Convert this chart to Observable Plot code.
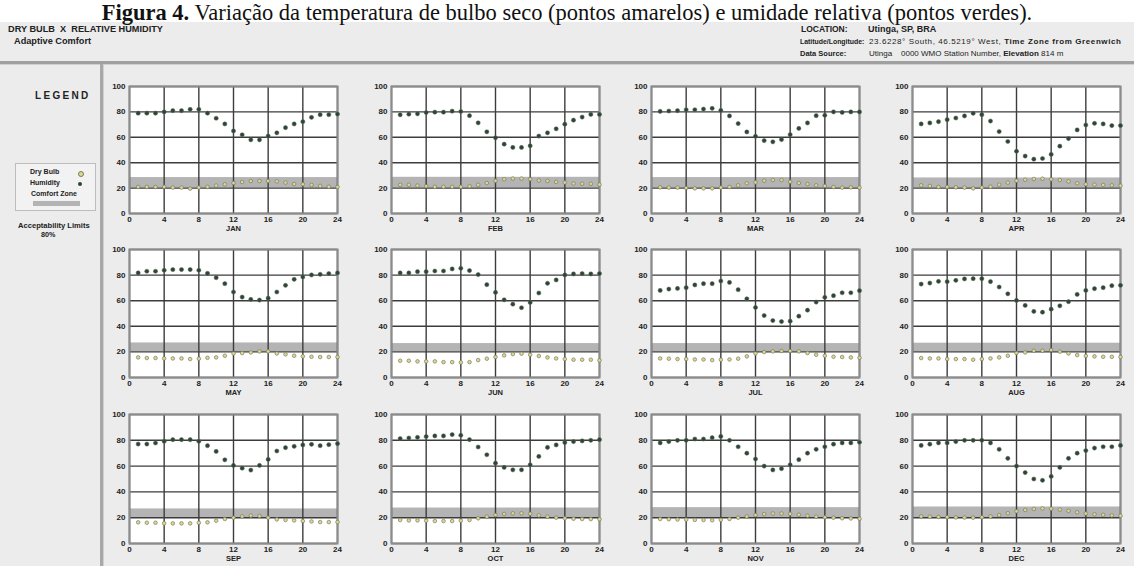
<!DOCTYPE html>
<html><head><meta charset="utf-8">
<script src="https://cdn.jsdelivr.net/npm/d3@7"></script>
<script src="https://cdn.jsdelivr.net/npm/@observablehq/plot@0.6"></script>
<style>
html,body{margin:0;padding:0;background:#fff;}
#root{position:relative;width:1134px;height:566px;overflow:hidden;font-family:"Liberation Sans",Arial,sans-serif;color:#222;background:#fff;}
#title{position:absolute;left:0;top:0;width:1134px;height:26px;text-align:center;font-family:"Liberation Serif","Times New Roman",serif;font-size:22.5px;line-height:26px;color:#111;white-space:nowrap;}
#bg{position:absolute;left:0;top:22px;width:1134px;height:544px;background:#ececec;}
.hdr{position:absolute;font-size:9.2px;font-weight:bold;white-space:nowrap;line-height:10px;}
.hdrn{font-weight:normal;}
#hline{position:absolute;left:0;top:61px;width:1134px;height:3px;background:#a0a0a0;border-bottom:1px solid #d0d0d0;}
#vline{position:absolute;left:100px;top:64px;width:3px;height:502px;background:#a8a8a8;border-right:1px solid #d0d0d0;}
#legtitle{position:absolute;left:35px;top:90px;font-size:10px;font-weight:bold;letter-spacing:2.3px;}
#legbox{position:absolute;left:15px;top:163px;width:79px;height:46px;background:#f2f2f2;border:1px solid #bdbdbd;}
.legt{position:absolute;font-size:7px;font-weight:bold;white-space:nowrap;}
.legdot{position:absolute;width:4px;height:4px;border-radius:50%;}
.panel{position:absolute;}
</style></head>
<body>
<div id="root">
  <div id="bg"></div>
  <div id="title"><b>Figura 4.</b> Variação da temperatura de bulbo seco (pontos amarelos) e umidade relativa (pontos verdes).</div>
  <div class="hdr" style="left:8px;top:24px;">DRY BULB&nbsp; X&nbsp; RELATIVE HUMIDITY</div>
  <div class="hdr" style="left:14px;top:36px;">Adaptive Comfort</div>
  <div class="hdr" style="left:801px;top:24px;font-size:8.5px;">LOCATION:</div>
  <div class="hdr" style="left:868px;top:24px;font-size:9px;">Utinga, SP, BRA</div>
  <div class="hdr" style="left:800px;top:37px;font-size:6.9px;">Latitude/Longitude:</div>
  <div class="hdr" style="left:869px;top:37px;font-size:8px;letter-spacing:0.6px;"><span class="hdrn">23.6228° South, 46.5219° West,</span> Time Zone from Greenwich</div>
  <div class="hdr" style="left:800px;top:49px;font-size:7.5px;">Data Source:</div>
  <div class="hdr" style="left:869px;top:49px;font-size:8px;"><span class="hdrn">Utinga &nbsp;&nbsp; 0000 WMO Station Number,</span> Elevation <span class="hdrn">814 m</span></div>
  <div id="hline"></div>
  <div id="vline"></div>
  <div id="legtitle">LEGEND</div>
  <div id="legbox">
    <div class="legt" style="left:14px;top:4px;">Dry Bulb</div>
    <div class="legdot" style="left:62px;top:7px;background:#d8d89a;border:0.5px solid #7d7d55;"></div>
    <div class="legt" style="left:14px;top:15px;">Humidity</div>
    <div class="legdot" style="left:62px;top:18px;background:#2e4536;"></div>
    <div class="legt" style="left:15px;top:26px;">Comfort Zone</div>
    <div style="position:absolute;left:17px;top:37px;width:47px;height:5px;background:#b4b4b4;"></div>
  </div>
  <div class="legt" style="left:18px;top:221px;font-size:7.6px;">Acceptability Limits</div>
  <div class="legt" style="left:41px;top:230px;font-size:7.2px;">80%</div>
</div>
<script>
const months = ["JAN","FEB","MAR","APR","MAY","JUN","JUL","AUG","SEP","OCT","NOV","DEC"];
const hours = [1,2,3,4,5,6,7,8,9,10,11,12,13,14,15,16,17,18,19,20,21,22,23,24];
const xTicks = [0,4,8,12,16,20,24];
const yTicks = [0,20,40,60,80,100];

// Comfort zone (adaptive, 80% acceptability) per month, °C
const bandLo = [20,20,20,20,20,20,20,20,20,20,20,20];
const bandHi = [28.3,28.5,28.3,28,27,26.5,26.5,26.8,26.8,27.5,27.8,28.3];

// Relative humidity (%) by hour
const humJan = [79,79,79,80,81,81,82,82,79,75,70.5,65,62,58,58,61,63.5,67.6,70.5,72.3,75.7,77.8,77.8,78.3];
const humFeb = [77.7,78.2,78.5,79.5,79.8,79.8,80.6,80.3,77,71.4,64.3,59.6,54.6,52,52,53.3,61,63.5,66.7,70.3,73.5,75.9,78,78];
const humMar = [80.4,80.7,81,81.7,81.7,82.2,82.8,81.2,76.8,70.8,64.2,60.8,57.4,56.4,58.2,62.1,67,71.3,77,77.3,80,79.6,80,80];
const humApr = [70.5,71.3,72.3,73.9,75.2,76.8,78.9,77.8,72.8,64.5,56.7,49,45.2,42.8,43.3,46.5,53,59,65.8,69.7,71,70.5,69.2,69.2];
const humMay = [81.7,83,83,83.8,84.3,84.3,84.3,83.8,81.4,78,73.3,66.8,62.8,61,60.5,62,66.8,72,76.7,78.5,80.1,80.6,81.2,81.7];
const humJun = [81.7,81.7,82.7,82.7,83.2,83.2,84.8,85.3,83.5,80.4,72.5,66.5,60.7,57.3,54.5,58.6,66,73.6,76.2,80.1,80.9,81.2,80.9,81.2];
const humJul = [68,69.1,69.6,70.2,72.3,73.3,73.3,75.4,74.3,68.6,61.5,54.7,48.4,44.5,43.7,44,47.9,52.6,58.9,62.6,63.9,66.2,66.2,67.8];
const humAug = [73,73.8,75.1,74.9,75.9,77,77.2,77.2,74.9,70.7,65.4,60.2,56.3,51.6,51,53.4,56,59.2,64.9,68,69.4,70.2,71.7,72];
const humSep = [77.1,77.1,77.9,79.2,80.5,80.5,80.5,79.2,75.8,71.4,64.9,60.5,58.4,56.9,60.5,65.2,71.7,74.3,75.3,76.4,76.9,75.8,76.6,77.4];
const humOct = [81.3,81.8,82.3,82.9,83.4,83.4,84.4,83.9,80.5,74.8,68.8,62.3,59,57.1,57.1,61,67.5,74.5,76.4,78.2,79,79.5,80,80.5];
const humNov = [78,79,80,80,81,81,82,83,80,75,70,65.5,60,57,58,61,65,70,73,75,77,78,78,78.5];
const humDec = [76,77,78,78,79,80,80,80,78,73,66,60,55,50,49,52,59,66,70,72,74,75,75,76];

// Dry bulb temperature (°C) by hour
const dryJan = [20.9,20.9,20.9,21,20.4,20.4,19.6,20.4,21,22,23,24,24.8,25.6,25.6,25.6,25.3,24.3,23.2,23,22.5,21.7,21.1,20.9];
const dryFeb = [22.6,22.6,22,21.5,21,21,21,21,21.5,22.6,24,25.7,27,27.5,27.5,27,26,25.7,24.9,24.4,23.6,23.4,23.4,22.8];
const dryMar = [20.6,20.4,20.4,20.1,19.8,19.8,19.8,20.4,20.9,22.2,23.8,24.5,25.8,26.4,26.4,25,24,23.2,22.2,21.7,20.9,20.4,20.6,20.4];
const dryApr = [22.2,21.7,20.9,20.9,20.6,20.4,19.8,20.4,21.1,22.7,24.3,25.8,26.6,27.2,27.4,26.9,26.4,25.3,23.8,23,22.7,22.5,22.2,21.9];
const dryMay = [15.7,15.2,15.2,14.9,14.9,14.9,14.4,14.7,15.4,15.7,17,18.8,19.1,19.6,20.4,20.4,18.8,18.1,17,16.5,16.2,16,16,16];
const dryJun = [13.1,13.1,12.6,12.6,12.6,12,12,11.8,12,13.6,14.7,16,17.3,18.3,18.6,17.8,16.8,15.7,14.9,14.4,13.9,13.9,13.9,13.4];
const dryJul = [14.9,14.7,14.4,14.4,14.1,14.1,13.6,13.9,14.1,14.7,16.5,18.8,19.9,20.4,20.7,20.7,20.4,19.1,17.8,17,16.2,16,15.7,15.4];
const dryAug = [15.2,14.9,14.9,14.4,14.4,14.4,13.9,14.4,14.9,15.7,17,19.1,19.6,20.9,20.9,21.5,20.2,18.8,17.5,16.8,16.5,16.2,16.2,16];
const drySep = [16.4,16.1,16.1,15.6,15.6,15.6,15.6,16.1,16.4,17.7,19,20,21,21.6,21.3,20,18.7,18.2,17.9,17.4,17.1,16.6,16.6,16.6];
const dryOct = [18.2,17.9,17.9,17.7,17.4,17.4,17.4,17.7,18.2,19.5,20.8,22.1,22.9,23.4,23.4,23.1,21.8,20.8,20,19.5,19.2,19,18.9,18.8];
const dryNov = [19,18.8,18.6,18.5,18.3,18.2,18,18.3,19,20,21,22,22.8,23.3,23.3,23,22.3,21.5,20.8,20.3,20,19.6,19.4,19.2];
const dryDec = [21,20.8,20.6,20.4,20.2,20.1,20,20.3,21,22,23.5,25,26,26.8,27.2,27,26.3,25.3,24.2,23.2,22.6,22.2,21.8,21.5];

const humAll = [humJan,humFeb,humMar,humApr,humMay,humJun,humJul,humAug,humSep,humOct,humNov,humDec];
const dryAll = [dryJan,dryFeb,dryMar,dryApr,dryMay,dryJun,dryJul,dryAug,drySep,dryOct,dryNov,dryDec];

const colLeft = [129, 391, 651, 912];
const rowTop = [86, 249, 414];
const rowH = [127, 128, 129];
const FW = 208, ML = 28, MR = 10, MT = 8, MB = 26;

const root = document.getElementById("root");
months.forEach((m, i) => {
  const col = i % 4, row = Math.floor(i / 4);
  const data = hours.map((h, k) => ({h, hum: humAll[i][k], dry: dryAll[i][k]}));
  const band = [{x1: xTicks[0], x2: xTicks[xTicks.length - 1], y1: bandLo[i], y2: bandHi[i]}];
  const svg = Plot.plot({
    width: FW + ML + MR,
    height: rowH[row] + MT + MB,
    marginLeft: ML, marginRight: MR, marginTop: MT, marginBottom: MB,
    x: {domain: [0, 24]},
    y: {domain: [0, 100]},
    style: {fontFamily: "Liberation Sans, Arial, sans-serif", fontSize: "8px", fontWeight: "bold", background: "transparent", color: "#222", overflow: "visible"},
    marks: [
      Plot.frame({fill: "#fff", stroke: null}),
      Plot.rect(band, {x1: "x1", x2: "x2", y1: "y1", y2: "y2", fill: "#b4b4b4"}),
      Plot.gridX(xTicks, {stroke: "#3c3c3c", strokeOpacity: 1, strokeWidth: 1.4}),
      Plot.gridY(yTicks, {stroke: "#3c3c3c", strokeOpacity: 1, strokeWidth: 1.4}),
      Plot.frame({stroke: "#8c8c8c", strokeWidth: 2}),
      Plot.axisX(xTicks, {tickSize: 0, tickPadding: 3, label: null, fontWeight: "bold"}),
      Plot.axisY(yTicks, {tickSize: 0, tickPadding: 4, label: null, fontWeight: "bold"}),
      Plot.text([m], {frameAnchor: "bottom", dy: 17, fontWeight: "bold", fontSize: 7.5}),
      Plot.dot(data, {x: "h", y: "dry", r: 1.8, fill: "#d8d89a", stroke: "#7d7d55", strokeWidth: 0.7}),
      Plot.dot(data, {x: "h", y: "hum", r: 2.1, fill: "#2e4536", stroke: "#5b6b5b", strokeWidth: 0.5})
    ]
  });
  const wrap = document.createElement("div");
  wrap.className = "panel";
  wrap.style.left = (colLeft[col] - ML) + "px";
  wrap.style.top = (rowTop[row] - MT) + "px";
  wrap.appendChild(svg);
  root.appendChild(wrap);
});
</script>
</body></html>
